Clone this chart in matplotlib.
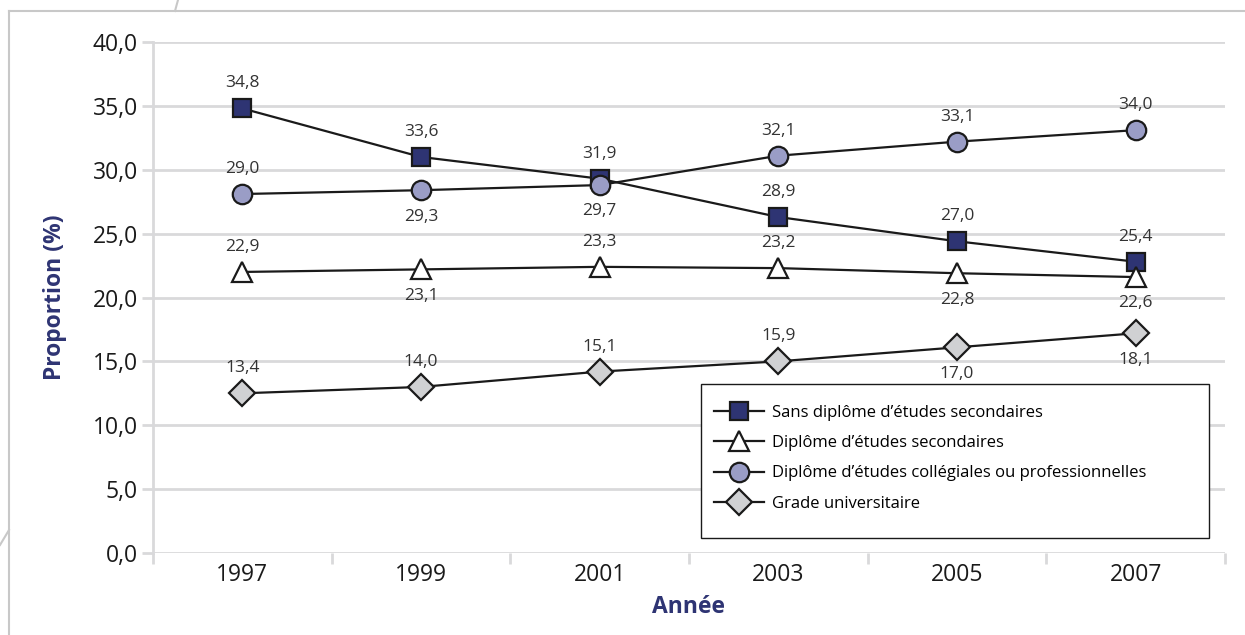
import numpy as np
import matplotlib
matplotlib.use("Agg")
import matplotlib.pyplot as plt
from matplotlib.lines import Line2D
from matplotlib.patches import Rectangle
from matplotlib.ticker import FuncFormatter

plt.rcParams['font.family'] = ['Open Sans', 'DejaVu Sans']

# data
years = ["1997", "1999", "2001", "2003", "2005", "2007"]
series_names = [
    "Sans diplôme d\u2019études secondaires",
    "Diplôme d\u2019études secondaires",
    "Diplôme d\u2019études collégiales ou professionnelles",
    "Grade universitaire",
]
# plotted positions (as drawn in the picture)
sans_diplome = [34.8, 31.0, 29.3, 26.3, 24.4, 22.8]
diplome_sec = [22.0, 22.2, 22.4, 22.3, 21.9, 21.6]
diplome_coll = [28.1, 28.4, 28.8, 31.1, 32.2, 33.1]
grade_univ = [12.5, 13.0, 14.2, 15.0, 16.1, 17.2]
# printed data labels
lab_sans = ["34,8", "33,6", "31,9", "28,9", "27,0", "25,4"]
lab_sec = ["22,9", "23,1", "23,3", "23,2", "22,8", "22,6"]
lab_coll = ["29,0", "29,3", "29,7", "32,1", "33,1", "34,0"]
lab_univ = ["13,4", "14,0", "15,1", "15,9", "17,0", "18,1"]
# label above (1) or below (-1) the point
pos_sans = [1, 1, 1, 1, 1, 1]
pos_sec = [1, -1, 1, 1, -1, -1]
pos_coll = [1, -1, -1, 1, 1, 1]
pos_univ = [1, 1, 1, 1, -1, -1]

navy = "#2E3473"
grid_c = "#D9D9DB"

fig = plt.figure(figsize=(12.45, 6.35), dpi=100)
ax = fig.add_axes([153 / 1245, 82 / 635, 1072 / 1245, 511 / 635])

x = np.arange(len(years))
styles = [
    (sans_diplome, lab_sans, pos_sans, "s", navy, 12.5),
    (diplome_sec, lab_sec, pos_sec, "^", "white", 15),
    (diplome_coll, lab_coll, pos_coll, "o", "#9A9DC6", 14),
    (grade_univ, lab_univ, pos_univ, "D", "#D0D1D3", 13),
]
handles = []
for (vals, labs, pos, mk, fc, ms), name in zip(styles, series_names):
    h, = ax.plot(x, vals, color="#1A1A1A", lw=1.6, marker=mk, markersize=ms,
                 markerfacecolor=fc, markeredgecolor="#1A1A1A", markeredgewidth=1.6,
                 label=name, zorder=3)
    handles.append(h)
    for xi, v, t, p in zip(x, vals, labs, pos):
        ax.annotate(t, (xi, v), xytext=(0, 18 if p > 0 else -19), textcoords="offset points",
                    ha="center", va="center", fontsize=12.5, color="#333333")

ax.set_xlim(-0.5, 5.5)
ax.set_ylim(0, 40)
ax.set_yticks(np.arange(0, 41, 5))
ax.yaxis.set_major_formatter(FuncFormatter(lambda v, _: f"{v:.1f}".replace(".", ",")))
ax.set_xticks(x)
ax.set_xticklabels(years)
ax.set_xticks(np.arange(-0.5, 6, 1), minor=True)
ax.tick_params(axis="x", which="major", length=0, pad=7, labelsize=16.5, labelcolor="#1A1A1A")
ax.tick_params(axis="x", which="minor", length=8, width=2, color=grid_c)
ax.tick_params(axis="y", length=8, width=2, color=grid_c, labelsize=16.5, labelcolor="#1A1A1A", pad=3)

ax.grid(axis="y", color=grid_c, lw=2)
ax.set_axisbelow(True)
for s in ["top", "right", "bottom"]:
    ax.spines[s].set_visible(False)
ax.spines["left"].set_color(grid_c)
ax.spines["left"].set_linewidth(2)

ax.set_ylabel("Proportion (%)", fontsize=16.5, fontweight="bold", color=navy, labelpad=18)
ax.set_xlabel("Année", fontsize=16.5, fontweight="bold", color=navy, labelpad=6)

# legend box (white, black edge) with the legend inside it
ax.add_patch(Rectangle((548 / 1072, 15 / 511), 508 / 1072, 154 / 511, transform=ax.transAxes,
                       facecolor="white", edgecolor="#1A1A1A", lw=1.0, zorder=4))
leg = ax.legend(handles=handles, loc="upper left", bbox_to_anchor=(561 / 1072, 148 / 511),
                frameon=False, fontsize=12, handlelength=3.0,
                borderpad=0, labelspacing=0.85, handletextpad=0.45,
                borderaxespad=0)
leg.set_zorder(5)

# decorative page frame
W, H = 1245, 635
frame_c = "#C8C8C8"
for xs, ys in [((9, 1245), (11, 11)), ((9, 9), (11, 635)), ((175, 178), (11, 0)), ((0, 9), (545, 530))]:
    fig.add_artist(Line2D([v / W for v in xs], [1 - v / H for v in ys],
                          transform=fig.transFigure, color=frame_c, lw=1.5))

fig.savefig("out.png", dpi=100)
